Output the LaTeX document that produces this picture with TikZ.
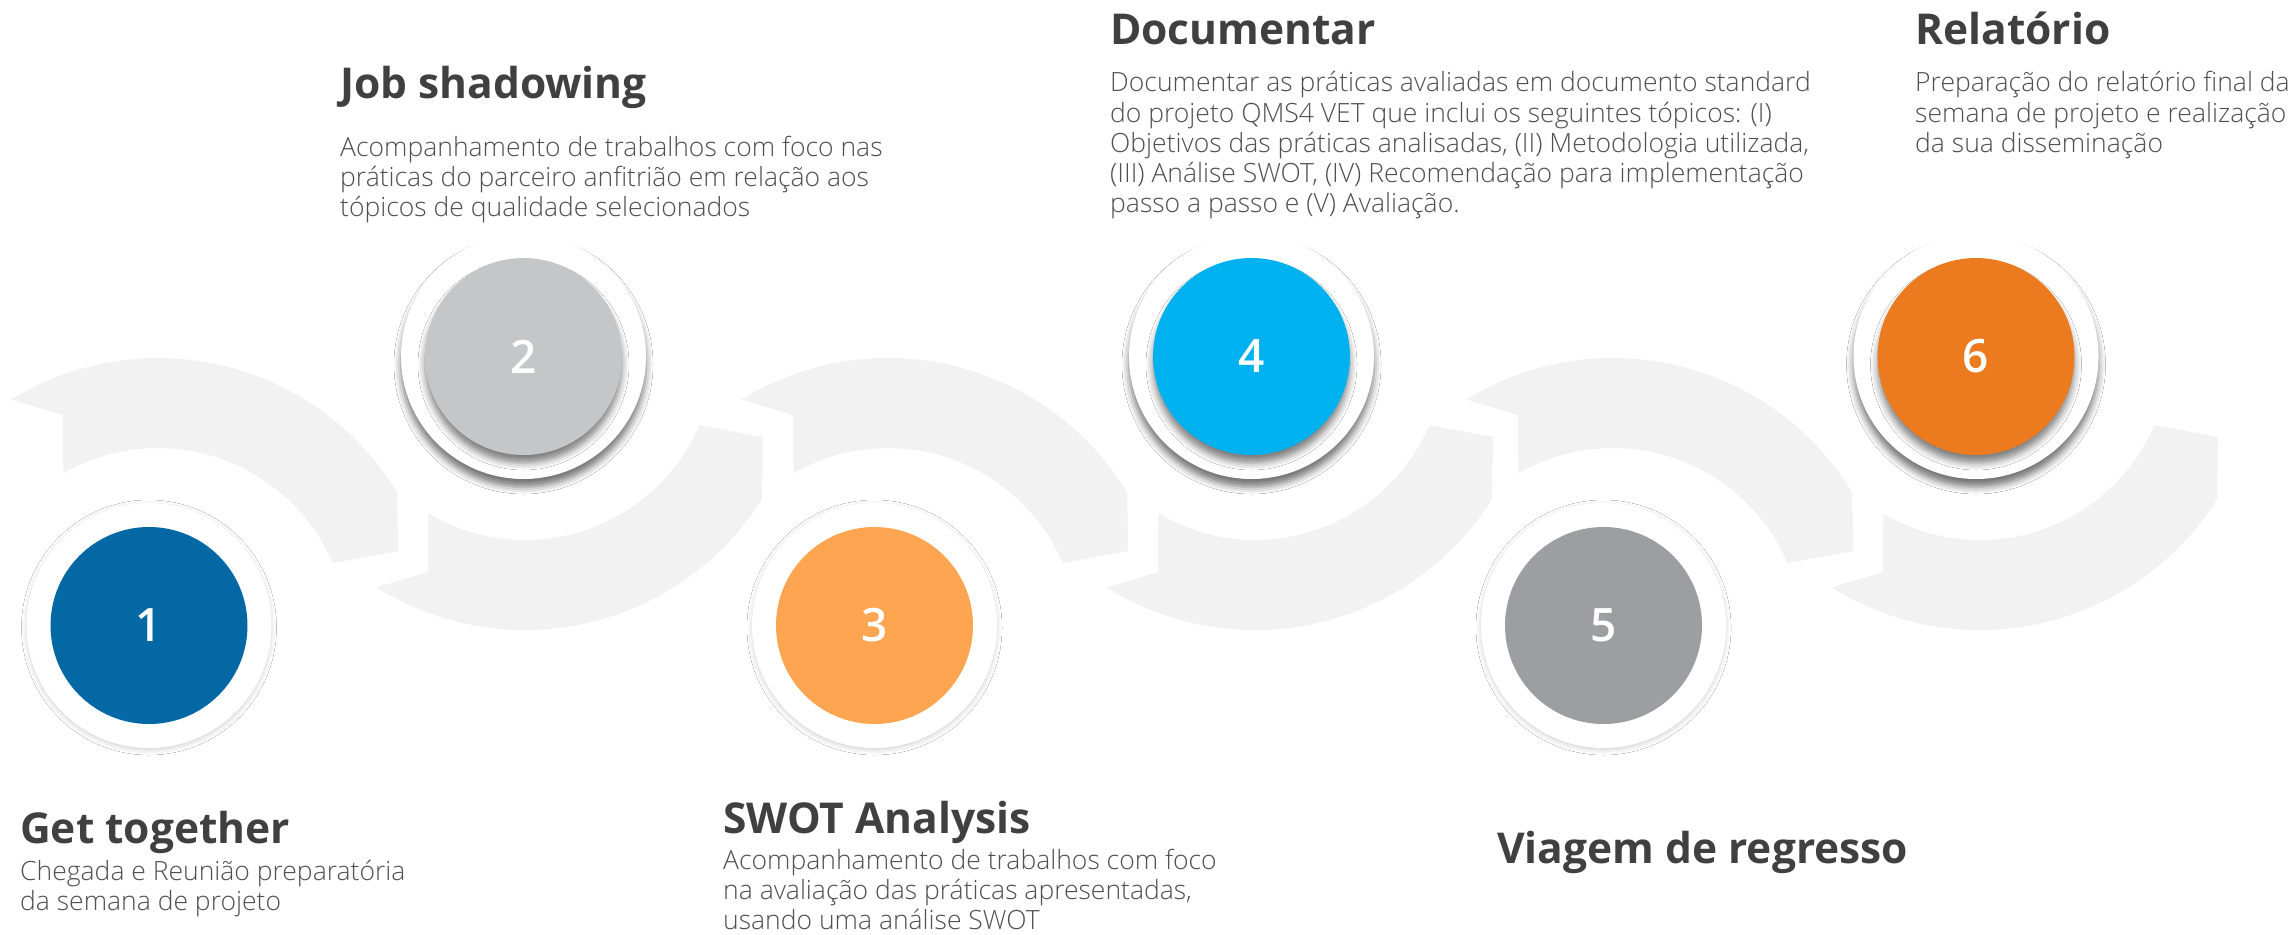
\documentclass[tikz,border=0pt]{standalone}
\usepackage{fontspec}
\setmainfont{Open Sans}
\IfFontExistsTF{OpenSans-Light.ttf}{\newfontfamily\lightfont{OpenSans-Light.ttf}}{\newfontfamily\lightfont{Open Sans Light}}
\IfFontExistsTF{Open Sans Semibold}{\newfontfamily\numfont{Open Sans Semibold}}{\newfontfamily\numfont{Open Sans}}
\usetikzlibrary{shadows.blur}
\definecolor{bandgray}{HTML}{F2F2F2}
\definecolor{titlegray}{HTML}{404040}
\definecolor{bodygray}{HTML}{505050}
\definecolor{cone}{HTML}{0468A4}
\definecolor{ctwo}{HTML}{C5C6C8}
\definecolor{cthree}{HTML}{FDA551}
\definecolor{cfour}{HTML}{00B1EF}
\definecolor{cfive}{HTML}{9D9EA2}
\definecolor{csix}{HTML}{EC7B20}
\begin{document}
\begin{tikzpicture}[x=1pt,y=1pt,
  ringlow/.style={circle,fill=white,minimum size=245pt,inner sep=0pt,
    blur shadow={shadow xshift=0pt,shadow yshift=-2pt,shadow blur radius=5pt,shadow opacity=18}},
  ringhigh/.style={circle,fill=white,minimum size=245pt,inner sep=0pt,
    blur shadow={shadow xshift=0pt,shadow yshift=-8pt,shadow blur radius=7pt,shadow opacity=55}},
  disclow/.style={circle,minimum size=197pt,inner sep=0pt,text=white,font=\numfont\fontsize{46}{50}\selectfont},
  dischigh/.style={disclow,blur shadow={shadow xshift=0pt,shadow yshift=-8pt,shadow blur radius=7pt,shadow opacity=50}},
  ttl/.style={anchor=base west,inner sep=0pt,text=titlegray,font=\bfseries\fontsize{42.5}{50}\selectfont},
  bodytxt/.style={anchor=base west,inner sep=0pt,text=bodygray,font=\lightfont\fontsize{26.5}{30}\selectfont},
  segup/.pic={\fill[bandgray] ([shift={(158,-638)}]121.6:280) arc[start angle=121.6,end angle=31.3,radius=280]
      -- (398,-551) -- ([shift={(158,-638)}]23.2:190) arc[start angle=23.2,end angle=119.9,radius=190]
      -- (63,-415) -- cycle;},
  segdown/.pic={\fill[bandgray] ([shift={(525,-350)}]238:280) arc[start angle=238,end angle=327.8,radius=280]
      -- (763,-437) -- ([shift={(525,-350)}]336.7:190) arc[start angle=336.7,end angle=239.4,radius=190]
      -- (428,-572) -- cycle;}
]
\useasboundingbox (0,0) rectangle (2290,-934);
\fill[white] (0,0) rectangle (2290,-934);
% band
\pic at (0,0) {segup};
\pic at (0,0) {segdown};
\pic at (730,0) {segup};
\pic at (730,0) {segdown};
\pic at (1455,0) {segup};
\pic at (1455,0) {segdown};
% circles
\node[ringlow] (r1) at (149,-625.5) {};
\node[disclow,fill=cone] (c1) at (r1) {1};
\node[ringhigh] (r2) at (523.5,-356.5) {};
\node[dischigh,fill=ctwo] (c2) at (r2) {2};
\node[ringlow] (r3) at (874.5,-625.5) {};
\node[disclow,fill=cthree] (c3) at (r3) {3};
\node[ringhigh] (r4) at (1251.5,-356.5) {};
\node[dischigh,fill=cfour] (c4) at (r4) {4};
\node[ringlow] (r5) at (1603.5,-625.5) {};
\node[disclow,fill=cfive] (c5) at (r5) {5};
\node[ringhigh] (r6) at (1976,-356.5) {};
\node[dischigh,fill=csix] (c6) at (r6) {6};
% texts
\node[ttl] (t1) at (20,-843) {Get together};
\node[bodytxt] (b1a) at (20,-880) {Chegada e Reunião preparatória};
\node[bodytxt] (b1b) at (20,-910) {da semana de projeto};
\node[ttl] (t2) at (340,-98) {Job shadowing};
\node[bodytxt] (b2a) at (340,-156) {Acompanhamento de trabalhos com foco nas};
\node[bodytxt] (b2b) at (340,-186) {práticas do parceiro anfitrião em relação aos};
\node[bodytxt] (b2c) at (340,-216) {tópicos de qualidade selecionados};
\node[ttl] (t3) at (723,-833) {SWOT Analysis};
\node[bodytxt] (b3a) at (723,-869) {Acompanhamento de trabalhos com foco};
\node[bodytxt] (b3b) at (723,-899) {na avaliação das práticas apresentadas,};
\node[bodytxt] (b3c) at (723,-929) {usando uma análise SWOT};
\node[ttl] (t4) at (1110,-45) {Documentar};
\node[bodytxt] (b4a) at (1110,-92) {Documentar as práticas avaliadas em documento standard};
\node[bodytxt] (b4b) at (1110,-122) {do projeto QMS4 VET que inclui os seguintes tópicos: (I)};
\node[bodytxt] (b4c) at (1110,-152) {Objetivos das práticas analisadas, (II) Metodologia utilizada,};
\node[bodytxt] (b4d) at (1110,-182) {(III) Análise SWOT, (IV) Recomendação para implementação};
\node[bodytxt] (b4e) at (1110,-212) {passo a passo e (V) Avaliação.};
\node[ttl] (t5) at (1497,-863) {Viagem de regresso};
\node[ttl] (t6) at (1915,-45) {Relatório};
\node[bodytxt] (b6a) at (1915,-92) {Preparação do relatório final da};
\node[bodytxt] (b6b) at (1915,-122) {semana de projeto e realização};
\node[bodytxt] (b6c) at (1915,-152) {da sua disseminação};
\end{tikzpicture}
\end{document}
